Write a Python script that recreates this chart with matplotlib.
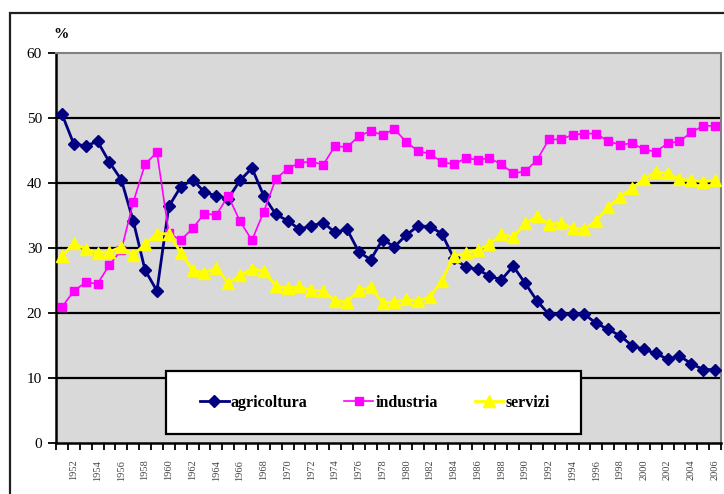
import matplotlib
matplotlib.use("Agg")
import matplotlib.pyplot as plt
from matplotlib.patches import Rectangle

# categories (years, labels are clipped in the original)
anni = list(range(1951, 2007))

agricoltura = [50.6, 46.0, 45.7, 46.4, 43.2, 40.5, 34.2, 26.6, 23.4, 36.4,
               39.4, 40.5, 38.6, 38.0, 37.6, 40.4, 42.3, 38.0, 35.2, 34.2,
               32.9, 33.4, 33.9, 32.4, 32.9, 29.4, 28.2, 31.3, 30.2, 32.0,
               33.4, 33.3, 32.2, 28.4, 27.1, 26.7, 25.7, 25.1, 27.2, 24.6,
               21.9, 19.8, 19.8, 19.8, 19.8, 18.4, 17.5, 16.5, 15.0, 14.4,
               13.8, 12.9, 13.4, 12.2, 11.3, 11.3]

industria = [20.9, 23.4, 24.7, 24.5, 27.4, 29.7, 37.0, 42.9, 44.7, 32.3,
             31.2, 33.0, 35.3, 35.1, 38.0, 34.1, 31.2, 35.6, 40.6, 42.2,
             43.1, 43.3, 42.8, 45.7, 45.5, 47.2, 48.0, 47.4, 48.3, 46.3,
             44.9, 44.5, 43.2, 42.9, 43.8, 43.6, 43.8, 42.9, 41.5, 41.8,
             43.5, 46.7, 46.7, 47.4, 47.6, 47.6, 46.4, 45.9, 46.1, 45.2,
             44.8, 46.1, 46.4, 47.8, 48.8, 48.8]

servizi = [28.7, 30.8, 29.8, 29.3, 29.4, 30.2, 28.9, 30.6, 32.2, 32.2,
           29.3, 26.6, 26.2, 26.9, 24.6, 25.8, 26.8, 26.5, 24.2, 23.8,
           24.1, 23.5, 23.4, 21.9, 21.7, 23.5, 24.0, 21.6, 21.7, 22.1,
           21.9, 22.5, 25.0, 28.8, 29.2, 29.7, 30.6, 32.1, 31.7, 33.8,
           34.9, 33.7, 33.8, 33.1, 32.9, 34.2, 36.3, 37.8, 39.2, 40.6,
           41.7, 41.5, 40.6, 40.4, 40.2, 40.4]

serif = "Liberation Serif"
W, H = 724, 494

fig = plt.figure(figsize=(7.24, 4.94), dpi=100)
fig.patch.set_facecolor("white")

# outer chart border (cropped at right and bottom)
fig.add_artist(Rectangle((10 / W, -0.2), 1.2, 1.2 - 13 / H,
                         transform=fig.transFigure, fill=False,
                         ec="#202020", lw=1.6, zorder=0))

ax = fig.add_axes([56 / W, 1 - 443 / H, (721 - 56) / W, (443 - 53) / H])
ax.set_facecolor("#d9d9d9")

x = list(range(len(anni)))
ax.plot(x, agricoltura, color="#000080", lw=2.0, marker="D", ms=6.5,
        mfc="#000080", mec="#000080", label="agricoltura", zorder=3)
ax.plot(x, industria, color="#ff00ff", lw=1.2, marker="s", ms=6,
        mfc="#ff00ff", mec="#ff00ff", label="industria", zorder=4)
ax.plot(x, servizi, color="#ffff00", lw=2.0, marker="^", ms=8.5,
        mfc="#ffff00", mec="#ffff00", label="servizi", zorder=5)

ax.set_xlim(-0.5, len(anni) - 0.5)
ax.set_ylim(0, 60)

ax.set_yticks(range(0, 61, 10))
ax.set_yticklabels([str(v) for v in range(0, 61, 10)], fontfamily=serif,
                   fontsize=11)
for v in range(10, 60, 10):
    ax.axhline(v, color="black", lw=1.6, zorder=1)

ax.set_xticks([i - 0.5 for i in range(len(anni) + 1)])
ax.set_xticklabels([])
ax.set_xticks(x[1::2], minor=True)
ax.set_xticklabels([str(a) for a in anni[1::2]], minor=True, rotation=90,
                   fontsize=7.5, fontfamily=serif, color="#444444", va="top")
ax.tick_params(axis="x", which="major", direction="out", length=5, width=1.3)
ax.tick_params(axis="x", which="minor", length=0, pad=12)
ax.tick_params(axis="y", direction="out", length=6, width=1.3, pad=4)

for s in ["left", "bottom"]:
    ax.spines[s].set_color("black")
    ax.spines[s].set_linewidth(1.8)
for s in ["top", "right"]:
    ax.spines[s].set_color("#808080")
    ax.spines[s].set_linewidth(1.5)

fig.text(53 / W, 1 - 34 / H, "%", fontfamily=serif, fontweight="bold",
         fontsize=11, va="center", ha="left")

# legend box
fig.add_artist(Rectangle((166 / W, 1 - 434 / H), (581 - 166) / W,
                         (434 - 371) / H, transform=fig.transFigure,
                         fc="white", ec="black", lw=1.6, zorder=4))
fig.legend(loc="center", bbox_to_anchor=(375 / W, 1 - 403 / H), ncol=3,
           frameon=False, prop={"family": serif, "weight": "bold",
                                "size": 11.5},
           handlelength=1.8, handletextpad=0.15, columnspacing=2.3)

fig.savefig("out.png", dpi=100)
